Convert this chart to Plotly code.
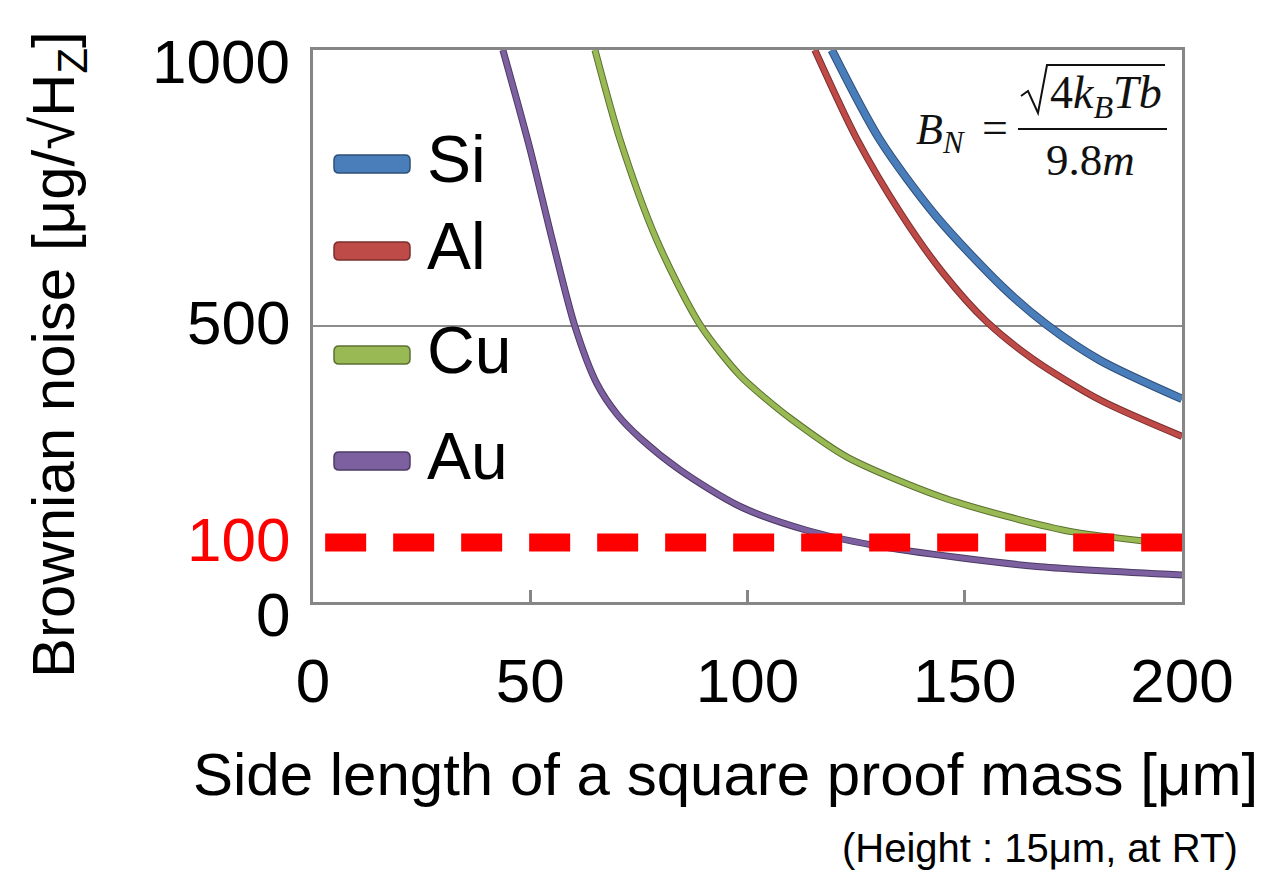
import plotly.graph_objects as go

# ---------------- data ----------------
materials = ["Si", "Al", "Cu", "Au"]

si_len = [119.4, 130.5, 143.5, 158.8, 168.9, 181.1, 200.0]
si_noise = [1000, 837, 698, 570, 502, 438, 368]

al_len = [115.5, 125.1, 135.2, 145.0, 155.0, 165.7, 181.1, 200.0]
al_noise = [1000, 840, 705, 596, 508, 440, 366, 300]

cu_len = [64.9, 70.7, 79.1, 89.1, 98.3, 104.4, 109.8, 122.8, 144.3, 159.7, 174.9, 200.0]
cu_noise = [1000, 837, 656, 502, 410, 367, 333, 263, 191, 155, 127, 103]

au_len = [43.7, 49.9, 55.2, 60.3, 65.3, 70.0, 75.3, 84.5, 98.3, 113.6, 128.9, 148.9, 167.3, 200.0]
au_noise = [1000, 822, 652, 499, 396, 340, 297, 239, 173, 130, 103, 80, 64, 49]

threshold_len = [2.8, 200.0]
threshold_noise = [108, 108]

x_ticks = [0, 50, 100, 150, 200]
y_label_vals = [1000, 500, 0]

series = {
    "Si": (si_len, si_noise),
    "Al": (al_len, al_noise),
    "Cu": (cu_len, cu_noise),
    "Au": (au_len, au_noise),
}

# ---------------- style ----------------
W, H = 1261, 874
L_M, R_M, T_M, B_M = 313, 79, 50, 272
PW, PH = W - L_M - R_M, H - T_M - B_M
FONT = "Liberation Sans, Arial, sans-serif"
SERIF = "Liberation Serif, Times New Roman, serif"

colors = {"Si": "#4a7ebb", "Al": "#be4b48", "Cu": "#98b954", "Au": "#7d60a0"}
edges = {"Si": "#2f4f78", "Al": "#7a2f2d", "Cu": "#5b7030", "Au": "#4c3a63"}
widths = {"Si": 6.5, "Al": 5, "Cu": 5, "Au": 5}


def px_x(px):
    return (px - L_M) / PW


def px_y(py):
    return (T_M + PH - py) / PH


fig = go.Figure()

for name in materials:
    xs, ys = series[name]
    fig.add_trace(go.Scatter(x=xs, y=ys, mode="lines", showlegend=False,
                             line=dict(color=edges[name], width=widths[name] + 2,
                                       shape="spline", smoothing=0.8),
                             hoverinfo="skip"))
    fig.add_trace(go.Scatter(x=xs, y=ys, mode="lines", name=name, showlegend=False,
                             line=dict(color=colors[name], width=widths[name],
                                       shape="spline", smoothing=0.8)))

fig.add_trace(go.Scatter(x=threshold_len, y=threshold_noise, mode="lines", showlegend=False,
                         line=dict(color="#ff0000", width=18, dash="41px,27px")))

shapes = []
annotations = []

# custom legend
leg_centers = [164, 251, 355, 461]
for name, cy in zip(materials, leg_centers):
    x0, x1 = 334, 410
    y0, y1 = cy - 9, cy + 9
    r = 5
    path = (f"M {px_x(x0 + r)} {px_y(y0)} L {px_x(x1 - r)} {px_y(y0)} "
            f"Q {px_x(x1)} {px_y(y0)} {px_x(x1)} {px_y(y0 + r)} "
            f"L {px_x(x1)} {px_y(y1 - r)} Q {px_x(x1)} {px_y(y1)} {px_x(x1 - r)} {px_y(y1)} "
            f"L {px_x(x0 + r)} {px_y(y1)} Q {px_x(x0)} {px_y(y1)} {px_x(x0)} {px_y(y1 - r)} "
            f"L {px_x(x0)} {px_y(y0 + r)} Q {px_x(x0)} {px_y(y0)} {px_x(x0 + r)} {px_y(y0)} Z")
    shapes.append(dict(type="path", xref="paper", yref="paper", path=path,
                       fillcolor=colors[name], line=dict(color=edges[name], width=1.5)))
    annotations.append(dict(text=name, xref="paper", yref="paper", x=px_x(425), y=px_y(cy - 5),
                            xanchor="left", yanchor="middle", showarrow=False,
                            font=dict(family=FONT, size=66, color="black")))

# y tick labels (text boxes in the original)
y_shift = {1000: -11, 500: 4, 0: -12}
for v in y_label_vals:
    annotations.append(dict(text=str(v), xref="paper", yref="y", x=px_x(292), y=v,
                            yshift=y_shift[v], xanchor="right", yanchor="middle",
                            showarrow=False, font=dict(family=FONT, size=62, color="black")))
annotations.append(dict(text="100", xref="paper", yref="y", x=px_x(292), y=threshold_noise[0],
                        yshift=3, xanchor="right", yanchor="middle", showarrow=False,
                        font=dict(family=FONT, size=62, color="#ff0000")))

# axis titles
annotations.append(dict(text="Side length of a square proof mass [\u03bcm]", xref="paper", yref="paper",
                        x=px_x(725), y=px_y(774), xanchor="center", yanchor="middle",
                        showarrow=False, font=dict(family=FONT, size=60, color="black")))
annotations.append(dict(text="Brownian noise [\u03bcg/\u221aH<sub>Z</sub>]", xref="paper", yref="paper",
                        x=px_x(58), y=px_y(355), xanchor="center", yanchor="middle", textangle=-90,
                        showarrow=False, font=dict(family=FONT, size=60, color="black")))
annotations.append(dict(text="(Height : 15\u03bcm, at RT)", xref="paper", yref="paper",
                        x=px_x(1240), y=px_y(848), xanchor="right", yanchor="middle",
                        showarrow=False, font=dict(family=FONT, size=40, color="black")))

# formula
annotations.append(dict(text="<i>B<sub>N</sub></i>", xref="paper", yref="paper",
                        x=px_x(914), y=px_y(132), xanchor="left", yanchor="middle",
                        showarrow=False, font=dict(family=SERIF, size=44, color="#111")))
annotations.append(dict(text="=", xref="paper", yref="paper",
                        x=px_x(995), y=px_y(128), xanchor="center", yanchor="middle",
                        showarrow=False, font=dict(family=SERIF, size=46, color="#111")))
annotations.append(dict(text="4<i>k<sub>B</sub>Tb</i>", xref="paper", yref="paper",
                        x=px_x(1048), y=px_y(96), xanchor="left", yanchor="middle",
                        showarrow=False, font=dict(family=SERIF, size=46, color="#111")))
annotations.append(dict(text="9.8<i>m</i>", xref="paper", yref="paper",
                        x=px_x(1090), y=px_y(160), xanchor="center", yanchor="middle",
                        showarrow=False, font=dict(family=SERIF, size=45, color="#111")))
shapes.append(dict(type="line", xref="paper", yref="paper", x0=px_x(1018), x1=px_x(1167),
                   y0=px_y(129), y1=px_y(129), line=dict(color="#111", width=2)))
rad = (f"M {px_x(1021)} {px_y(96)} L {px_x(1028)} {px_y(91)} L {px_x(1038)} {px_y(113)} "
       f"L {px_x(1047)} {px_y(65)} L {px_x(1165)} {px_y(65)}")
shapes.append(dict(type="path", xref="paper", yref="paper", path=rad,
                   line=dict(color="#111", width=2)))

fig.update_layout(
    width=W, height=H,
    margin=dict(l=L_M, r=R_M, t=T_M, b=B_M, pad=0),
    paper_bgcolor="white", plot_bgcolor="white",
    showlegend=False,
    shapes=shapes, annotations=annotations,
    font=dict(family=FONT, color="black"),
)
fig.update_xaxes(range=[0, 200], tickvals=x_ticks, ticks="inside", ticklen=12,
                 tickwidth=3, tickcolor="#868686", showgrid=False, zeroline=False,
                 showline=True, linecolor="#868686", linewidth=3, mirror=True,
                 tickfont=dict(family=FONT, size=62, color="black"), ticklabelstandoff=23)
fig.update_yaxes(range=[0, 1000], tickvals=[0, 500, 1000], showticklabels=False, ticks="",
                 showgrid=True, gridcolor="#8c8c8c", gridwidth=2, zeroline=False,
                 showline=True, linecolor="#868686", linewidth=3, mirror=True)

fig.write_html("out.html")
